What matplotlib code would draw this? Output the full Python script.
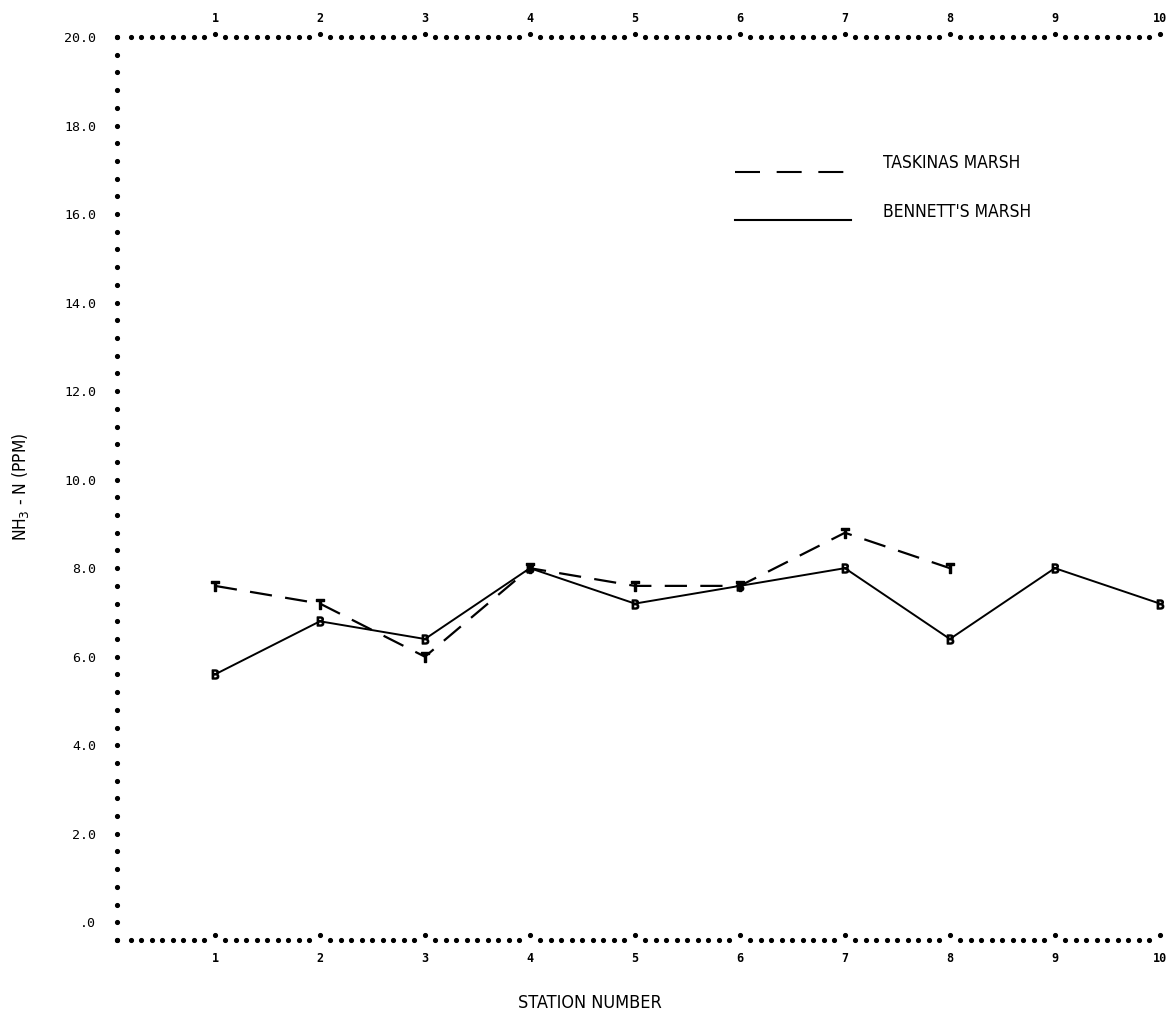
import numpy as np
import matplotlib
matplotlib.use("Agg")
import matplotlib.pyplot as plt
from matplotlib.transforms import offset_copy

# NH3-N by station, two marshes
stations = [1, 2, 3, 4, 5, 6, 7, 8, 9, 10]
taskinas_stations = [1, 2, 3, 4, 5, 6, 7, 8]
taskinas_nh3 = [7.6, 7.2, 6.0, 8.0, 7.6, 7.6, 8.8, 8.0]
bennett_nh3 = [5.6, 6.8, 6.4, 8.0, 7.2, 7.6, 8.0, 6.4, 8.0, 7.2]
y_ticks = [0.0, 2.0, 4.0, 6.0, 8.0, 10.0, 12.0, 14.0, 16.0, 18.0, 20.0]
y_tick_labels = [".0", "2.0", "4.0", "6.0", "8.0", "10.0", "12.0", "14.0", "16.0", "18.0", "20.0"]

NARROW = dict(family=["DejaVu Sans"], fontstretch="condensed")
MONO = ["DejaVu Sans Mono"]

W, H = 1173, 1019
fig = plt.figure(figsize=(W / 100, H / 100), dpi=100)
ax = fig.add_axes([117 / W, (H - 940) / H, (1163 - 117) / W, (940 - 37) / H])

x0, x1 = 0.067, 10.03
y0, y1 = -0.4, 20.0
ax.set_xlim(x0, x1)
ax.set_ylim(y0, y1)
for s in ax.spines.values():
    s.set_visible(False)

# dotted printer-style frame: left, top and bottom rows of dots
dot = dict(color="black", marker="o", markersize=2.7, linestyle="none", clip_on=False)
xs = np.round(np.arange(0.2, 10.0, 0.1), 2)
xs = xs[np.abs(xs - np.round(xs)) > 1e-6]
xs = np.concatenate([[x0], xs])
ax.plot(xs, np.full(len(xs), y0), **dot)
ax.plot(xs, np.full(len(xs), y1), **dot)
ys = np.arange(y0, y1 + 0.01, 0.4)
ax.plot(np.full(len(ys), x0), ys, **dot)

# raised dots at each station along top and bottom rows
up = offset_copy(ax.transData, fig=fig, x=0, y=5, units="dots")
ax.plot(stations, np.full(len(stations), y0), transform=up, **dot)
up2 = offset_copy(ax.transData, fig=fig, x=0, y=3, units="dots")
ax.plot(stations, np.full(len(stations), y1), transform=up2, **dot)

# data lines
ax.plot(taskinas_stations, taskinas_nh3, color="black", lw=1.6,
        linestyle=(0, (10, 6)), marker=r"$\mathrm{T}$", markersize=6.5, clip_on=False)
ax.plot(stations, bennett_nh3, color="black", lw=1.4,
        marker=r"$\mathrm{B}$", markersize=6.5, clip_on=False)

# ticks
ax.set_xticks(stations)
ax.set_xticklabels([str(s) for s in stations], family=MONO, fontsize=8.5, fontweight="bold")
ax.tick_params(axis="x", length=0, pad=9, labeltop=True, top=False)
ax.set_yticks(y_ticks)
ax.set_yticklabels(y_tick_labels, family=MONO, fontsize=9.5)
ax.tick_params(axis="y", length=0, pad=15)

# legend drawn by hand
lx = [x0 + (733 - 117) / 104.6, x0 + (848 - 117) / 104.6]
ax.plot(lx, [16.95, 16.95], color="black", lw=1.5, linestyle=(0, (12, 8)))
ax.plot(lx, [15.86, 15.86], color="black", lw=1.5)
tx = x0 + (880 - 117) / 104.6
ax.text(tx, 17.15, "TASKINAS MARSH", fontsize=12.5, va="center", ha="left", **NARROW)
ax.text(tx, 16.05, "BENNETT'S MARSH", fontsize=12.5, va="center", ha="left", **NARROW)

fig.text(590 / W, 1 - 1003 / H, "STATION NUMBER", fontsize=13,
         ha="center", va="center", **NARROW)
fig.text(21 / W, 1 - 487 / H, r"NH$_3$ - N (PPM)", rotation=90, fontsize=12.5,
         ha="center", va="center", **NARROW)

fig.savefig("out.png", dpi=100)
